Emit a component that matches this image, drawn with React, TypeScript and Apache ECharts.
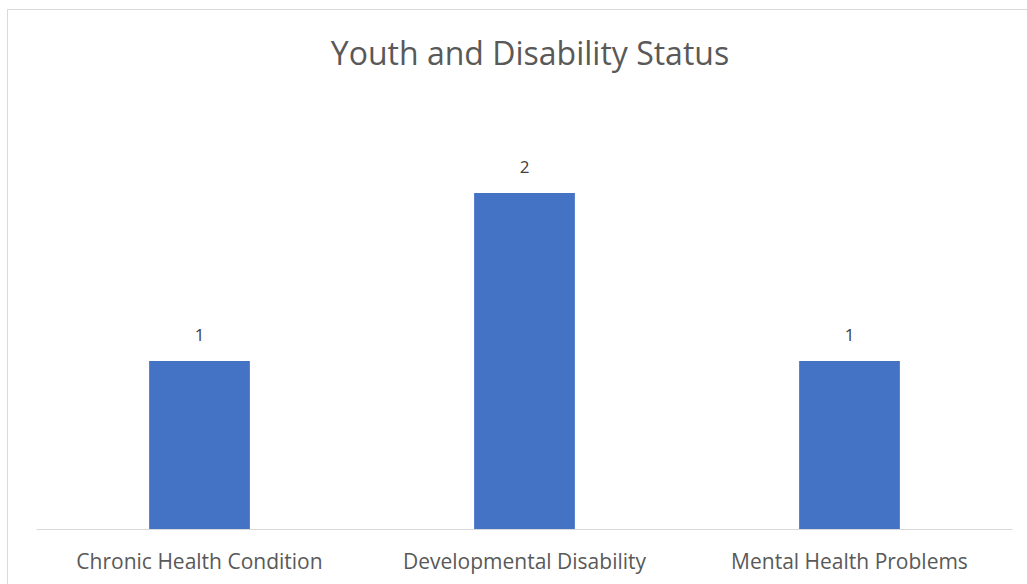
import React, { useEffect, useRef } from "react";
import * as echarts from "echarts";

const categories = ["Chronic Health Condition", "Developmental Disability", "Mental Health Problems"];
const values = [1, 2, 1];
const titleText = "Youth and Disability Status";

const FONT = "'Open Sans', 'Noto Sans', sans-serif";

export default function App() {
  const ref = useRef<HTMLDivElement>(null);
  useEffect(() => {
    if (!ref.current) return;
    const chart = echarts.init(ref.current, undefined, { renderer: "svg" });
    chart.setOption({
      animation: false,
      backgroundColor: "#ffffff",
      title: {
        text: titleText,
        left: 525,
        top: 31,
        textAlign: "center",
        textStyle: { fontFamily: FONT, fontSize: 32, fontWeight: "normal", color: "#595959" },
      },
      grid: { left: 37, right: 15, top: 109, bottom: 55, containLabel: false },
      xAxis: {
        type: "category",
        data: categories,
        axisLine: { show: true, lineStyle: { color: "#d9d9d9", width: 1 } },
        axisTick: { show: false },
        axisLabel: { fontFamily: FONT, fontSize: 21, color: "#595959", margin: 21 },
      },
      yAxis: {
        type: "value",
        min: 0,
        max: 2.5,
        interval: 0.5,
        show: false,
        splitLine: { show: false },
      },
      series: [
        {
          type: "bar",
          data: values,
          barWidth: "31%",
          itemStyle: { color: "#4472c4" },
          label: {
            show: true,
            position: "top",
            distance: 18,
            fontFamily: FONT,
            fontSize: 17,
            color: "#404040",
          },
        },
      ],
      graphic: [
        { type: "line", shape: { x1: 7.5, y1: 9.5, x2: 7.5, y2: 584 }, style: { stroke: "#d9d9d9", lineWidth: 1 } },
        { type: "line", shape: { x1: 7.5, y1: 9.5, x2: 1027, y2: 9.5 }, style: { stroke: "#d9d9d9", lineWidth: 1 } },
      ],
    });
    return () => chart.dispose();
  }, []);
  return (
    <div
      ref={ref}
      style={{ position: "fixed", left: 0, top: 0, width: 1027, height: 584 }}
    />
  );
}
